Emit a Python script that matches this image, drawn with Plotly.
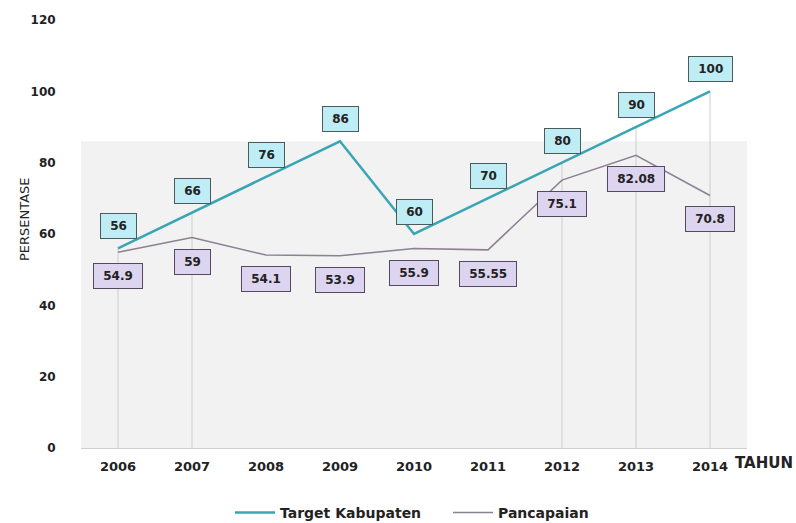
import plotly.graph_objects as go

years = ["2006", "2007", "2008", "2009", "2010", "2011", "2012", "2013", "2014"]
target = [56, 66, 76, 86, 60, 70, 80, 90, 100]
pencapaian = [54.9, 59, 54.1, 53.9, 55.9, 55.55, 75.1, 82.08, 70.8]
target_labels = ["56", "66", "76", "86", "60", "70", "80", "90", "100"]
pencapaian_labels = ["54.9", "59", "54.1", "53.9", "55.9", "55.55", "75.1", "82.08", "70.8"]
drop_years = ["2006", "2007", "2012", "2013", "2014"]
y_ticks = [0, 20, 40, 60, 80, 100, 120]

FONT = "DejaVu Sans"
TEAL = "#3aa6b4"
PURPLE = "#8c8092"
BOLD = dict(family=FONT, size=12, color="#222", weight="bold")
LBL = dict(family=FONT, size=12, color="#222", weight="bold")
NB = "\u00a0"

fig = go.Figure()
fig.add_trace(go.Scatter(x=years, y=target, mode="lines", name="Target Kabupaten",
                         line=dict(color=TEAL, width=2.5)))
fig.add_trace(go.Scatter(x=years, y=pencapaian, mode="lines", name="Pancapaian",
                         line=dict(color=PURPLE, width=1.5)))

shapes = [dict(type="rect", xref="paper", yref="y", x0=0, x1=1, y0=0, y1=86,
               fillcolor="#f2f2f2", line=dict(width=0), layer="below")]
for yr in drop_years:
    i = years.index(yr)
    top = max(target[i], pencapaian[i])
    shapes.append(dict(type="line", xref="x", yref="y", x0=i, x1=i, y0=0, y1=top,
                       line=dict(color="#cccccc", width=1), layer="below"))

annotations = []
for i, (v, t) in enumerate(zip(target, target_labels)):
    annotations.append(dict(x=i, y=v, xref="x", yref="y", text=NB + t + NB, showarrow=False,
                            yshift=22, font=LBL, bgcolor="#bfedf5", bordercolor="#4d5a5c",
                            borderwidth=1, borderpad=5))
for i, (v, t) in enumerate(zip(pencapaian, pencapaian_labels)):
    annotations.append(dict(x=i, y=v, xref="x", yref="y", text=NB + t + NB, showarrow=False,
                            yshift=-24, font=LBL, bgcolor="#ddd5ef", bordercolor="#54495f",
                            borderwidth=1, borderpad=5))
annotations.append(dict(xref="paper", yref="paper", x=(733 - 81) / 666, y=-15 / 428,
                        xanchor="left", yanchor="middle", text="TAHUN", showarrow=False,
                        font=dict(family=FONT, size=15, color="#222", weight="bold")))
annotations.append(dict(xref="paper", yref="paper", x=(24 - 81) / 666, y=(448 - 219) / 428,
                        xanchor="center", yanchor="middle", text="PERSENTASE", showarrow=False,
                        textangle=-90, font=dict(family=FONT, size=13, color="#222")))

fig.update_layout(
    width=796, height=523,
    margin=dict(l=81, r=49, t=20, b=75, autoexpand=False),
    paper_bgcolor="white", plot_bgcolor="white",
    font=dict(family=FONT, size=12, color="#222"),
    shapes=shapes, annotations=annotations,
    showlegend=True,
    legend=dict(orientation="h", x=(230 - 81) / 666, xanchor="left", y=-65 / 428, yanchor="middle",
                font=dict(family=FONT, size=14, color="#222", weight="bold"),
                itemwidth=40, traceorder="normal", entrywidth=163, entrywidthmode="pixels"),
    xaxis=dict(type="category", range=[-0.5, 8.5], showgrid=False, showline=True,
               linecolor="#d0d0d0", linewidth=1, ticks="outside", ticklen=6,
               tickcolor="rgba(0,0,0,0)", tickfont=dict(BOLD, size=13), zeroline=False),
    yaxis=dict(range=[0, 120], tickvals=y_ticks, showgrid=False, zeroline=False, showline=False,
               ticks="outside", ticklen=22, tickcolor="rgba(0,0,0,0)", tickfont=BOLD),
)

fig.write_html("out.html")
